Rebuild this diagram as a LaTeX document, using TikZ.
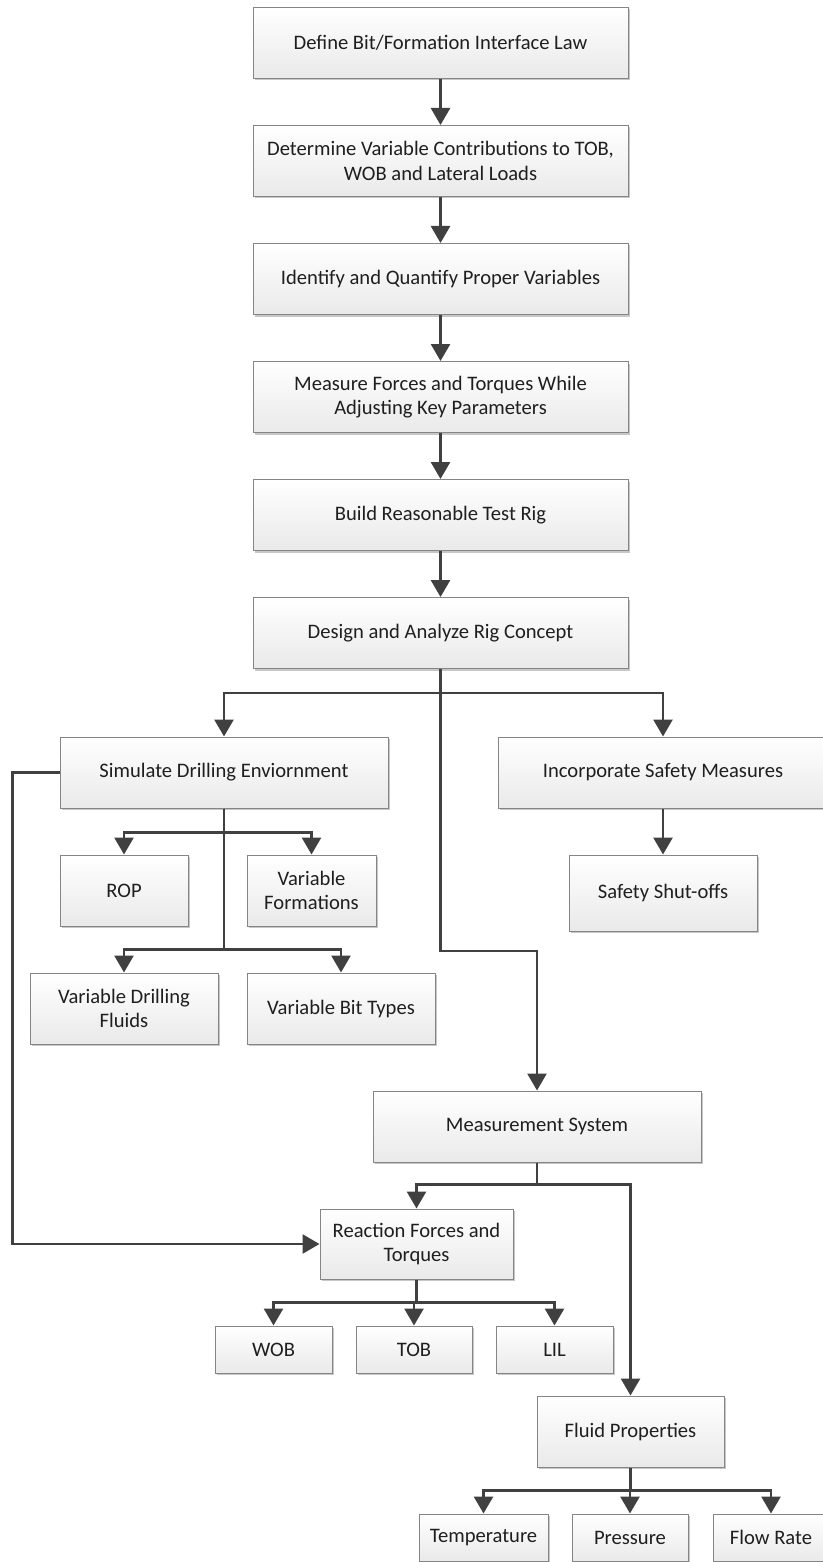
\documentclass[tikz,border=0pt]{standalone}
\usepackage{fontspec}
\setmainfont{Carlito}
\usetikzlibrary{arrows.meta,shadows}
\definecolor{keret}{HTML}{858585}
\definecolor{sotet}{HTML}{404040}
\tikzset{
  blokk/.style={draw=keret,line width=1pt,top color=white,bottom color=gray!17,
    drop shadow={shadow xshift=2pt,shadow yshift=-2pt,opacity=.22,fill=black},
    minimum height=71,inner sep=2pt,align=center},
  kis/.style={blokk,minimum height=47},
  vonal/.style={draw=sotet,line width=2.8pt},
  nyilas/.style={vonal,-{Triangle[length=17pt,width=19pt]}},
}

\begin{document}
\begin{tikzpicture}[x=1pt,y=-1pt,font=\fontsize{20.6}{24.5}\selectfont,text=black!88]
  \useasboundingbox (0,0) rectangle (822,1562);
  % main chain
  \node[blokk,minimum width=375] (def) at (440.5,43)  {Define Bit/Formation Interface Law};
  \node[blokk,minimum width=375] (det) at (440.5,161) {Determine Variable Contributions to TOB,\\ WOB and Lateral Loads};
  \node[blokk,minimum width=375] (idq) at (440.5,279) {Identify and Quantify Proper Variables};
  \node[blokk,minimum width=375] (mea) at (440.5,397) {Measure Forces and Torques While\\ Adjusting Key Parameters};
  \node[blokk,minimum width=375] (bld) at (440.5,515) {Build Reasonable Test Rig};
  \node[blokk,minimum width=375] (des) at (440.5,633) {Design and Analyze Rig Concept};
  \foreach \a/\b in {def/det,det/idq,idq/mea,mea/bld,bld/des}
    \draw[nyilas] (\a.south) -- (\b.north);
  % branches
  \node[blokk,minimum width=328] (sim) at (224,772.5) {Simulate Drilling Enviornment};
  \node[blokk,minimum width=330] (inc) at (663,772.5) {Incorporate Safety Measures};
  \node[blokk,minimum width=128] (rop) at (124,890.5) {ROP};
  \node[blokk,minimum width=129] (vfo) at (311.5,890.5) {Variable\\ Formations};
  \node[blokk,minimum width=188,minimum height=76] (saf) at (663,893) {Safety Shut-offs};
  \node[blokk,minimum width=188] (vdf) at (124,1008.5) {Variable Drilling\\ Fluids};
  \node[blokk,minimum width=188] (vbt) at (341,1008.5) {Variable Bit Types};
  \node[blokk,minimum width=328] (msy) at (537,1126.5) {Measurement System};
  \node[blokk,minimum width=193,minimum height=70] (rft) at (416.5,1244) {Reaction Forces and\\ Torques};
  \node[kis,minimum width=117] (wob) at (273.5,1349.5) {WOB};
  \node[kis,minimum width=116] (tob) at (414,1349.5) {TOB};
  \node[kis,minimum width=117] (lil) at (554.5,1349.5) {LIL};
  \node[blokk,minimum width=187] (flu) at (630.5,1431.5) {Fluid Properties};
  \node[kis,minimum width=129] (tmp) at (483.5,1537.5) {Temperature};
  \node[kis,minimum width=116] (prs) at (630,1537.5) {Pressure};
  \node[kis,minimum width=116] (flr) at (771,1537.5) {Flow Rate};
  % connectors
  \draw[nyilas] (des.south) -- ++(0,24) -| (sim.north);
  \draw[nyilas] (des.south) -- ++(0,24) -| (inc.north);
  \draw[nyilas] (des.south) -- ++(0,282) -| (msy.north);
  \draw[nyilas] (inc.south) -- (saf.north);
  \draw[nyilas] (sim.south) -- ++(0,24) -| (rop.north);
  \draw[nyilas] (sim.south) -- ++(0,24) -| (vfo.north);
  \draw[nyilas] (sim.south) -- ++(0,141) -| (vdf.north);
  \draw[nyilas] (sim.south) -- ++(0,141) -| (vbt.north);
  \draw[nyilas] (sim.west) -- ++(-47,0) |- (rft.west);
  \draw[nyilas] (msy.south) -- ++(0,22) -| (rft.north);
  \draw[nyilas] (msy.south) -- ++(0,22) -| (flu.north);
  \foreach \c in {wob,tob,lil}
    \draw[nyilas] (rft.south) -- ++(0,23) -| (\c.north);
  \foreach \c in {tmp,prs,flr}
    \draw[nyilas] (flu.south) -- ++(0,23) -| (\c.north);
\end{tikzpicture}
\end{document}
